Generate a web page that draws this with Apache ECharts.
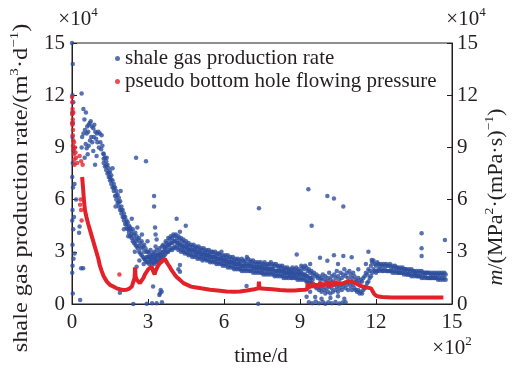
<!DOCTYPE html>
<html><head><meta charset="utf-8">
<script src="https://cdn.jsdelivr.net/npm/echarts@6/dist/echarts.min.js"></script>
<style>html,body{margin:0;padding:0;background:#fff}#c{width:517px;height:370px}</style>
</head><body><div id="c"></div>
<script>
// ---- tick labels ----
const xTickLabels = ['0','3','6','9','12','15'];   // ×10^2 d
const yTickLabels = ['0','3','6','9','12','15'];   // ×10^4
const seriesNames = ['shale gas production rate', 'pseudo bottom hole flowing pressure'];

// ---- shale gas production rate (day, 10^4 m3/d): scattered points ----
const gasRateScatter = [
[0,15.0],[3,13.8],[2,12.0],[5,11.6],[1,11.0],[4,10.4],[2,9.6],[6,8.8],[3,8.1],[1,7.3],[4,6.7],[10,6.9],[16,6.0],[2,5.4],[8,5.0],[1,4.8],[5,4.3],[30,4.45],[28,4.1],[2,3.4],[10,2.9],[6,2.6],[1,1.8],[36,2.05],[44,2.05],[32,0.23],[3,0.6],[2,2.2],
[38,12.1],[45,11.2],[55,11.0],[49,10.6],[51,10.0],[60,10.2],[66,10.3],[70,10.4],[74,10.5],[78,10.2],[84,10.1],[88,10.3],[92,9.9],[98,9.8],[104,9.9],[110,9.8],[117,9.7],[58,9.8],[45,9.8],[40,9.6],[64,9.9],[71,9.4],[80,9.3],[38,9.0],[58,8.95],[66,9.1],[97,8.5],[124,8.65],[120,9.1],[112,9.3],[106,9.0],[100,9.3],[91,8.0],[84,8.8],[62,8.6],[50,8.4],[54,9.2],[76,9.6],[95,9.5],[86,9.6],[115,8.9],[137,8.4],[150,7.3],
[160,7.8],[172,5.6],[192,6.5],[205,4.3],[222,3.9],[236,4.9],[248,3.0],[258,4.4],[266,2.5],[276,4.0],[283,2.3],[298,3.6],[253,8.4],[292,8.2],[324,6.2],[324,5.6],[328,4.4],[330,4.0],[334,3.7],[330,3.3],[288,2.6],[354,0.71],[345,0.52],[316,0.05],[334,0.05],[355,0.1],[242,0],[295,0.02],[189,0.65],[347,0.6],[350,0.8],[255,2.14],[320,1.0],[413,4.9],[449,4.5],[426,4.15],[426,2.24],[420,2.0],[426,1.86],
[935,0.1],[948,0.05],[962,0.15],[975,0.05],[990,0.12],[1000,0.02],[1012,0.1],[1025,0.05],[1040,0.12],[1055,0.03],[1068,0.08],[1080,0.1],[926,0.42],[940,0.7],[960,0.4],[985,0.3],[1020,0.35],[1050,0.45],[1075,0.3],[735,0.02],[689,1.03],
[738,5.5],[933,6.6],[946,4.5],[1008,6.2],[1034,6.07],[1071,5.6],[887,2.85],[979,2.66],[1008,2.49],[1034,2.8],[1071,2.76],[1104,2.68],[1170,3.0],[1183,2.53],[1380,4.06],[1380,3.2],[1380,2.76],[1472,3.68],[940,2.3],[1050,2.3],[1130,2.0],[1160,2.3]
];
// ---- shale gas production rate: main band, rows of [day, values read at that day...] ----
const gasRateBand = [
[125,8.6,8.35,8.1],[130,8.4,7.9],[135,8.2,7.95,7.7],[140,8.0,7.5],[145,7.8,7.55,7.3],[150,7.6,7.1],[155,7.4,7.15,6.9],[160,7.1,6.7],[165,6.9,6.7,6.5],[170,6.7,6.2],[175,6.5,6.25,6.0],[180,6.3,5.8],[185,6.1,5.85,5.6],[190,5.9,5.4],[195,5.6,5.4,5.2],[200,5.4,5.0],[205,5.2,5.0,4.8],[210,5.0,4.6],[215,4.8,4.6,4.4],[220,4.7,4.3],[225,4.5,4.3,4.1],[230,4.4,3.9],[235,4.2,4.0,3.8],[240,4.3,3.6],[245,4.0,3.75,3.5],[250,4.1,3.4],[255,3.9,3.6,3.3],[260,3.7,3.2],[265,3.8,3.35,3.0],[270,3.5,2.9],[275,3.6,3.2,2.8],[280,3.3,2.7],[285,3.4,3.0,2.6],[290,3.2,2.5],[295,3.0,2.7,2.4],
[300,3.0,2.7,2.4],[305,2.9,2.6,2.3],[310,3.1,2.7,2.5],[315,2.8,2.5,2.3],[320,2.9,2.7,2.4],[325,3.0,2.6,2.3],[330,2.8,2.6,2.4],[335,3.1,2.8,2.5],[340,2.9,2.7,2.4],[345,3.2,2.8,2.5],[350,3.0,2.8,2.6],[355,3.3,2.9,2.6],[360,3.4,3.0,2.7],[365,3.3,3.1,2.8],[370,3.6,3.2,2.9],[375,3.5,3.3,3.0],[380,3.8,3.4,3.0],[385,3.7,3.4,3.1],[390,3.9,3.5,3.2],[395,3.8,3.5,3.1],
[400,4.0,3.6,3.2],[405,3.9,3.6,3.3],[410,4.0,3.6,3.2],[415,3.8,3.5,3.3],[420,3.9,3.5,3.1],[425,3.7,3.4,3.2],[430,3.8,3.4,3.0],[435,3.6,3.3,3.1],[440,3.7,3.3,3.0],[445,3.5,3.2,2.9],[450,3.6,3.3,3.0],[455,3.4,3.2,2.9],[460,3.5,3.1,2.8],[465,3.3,3.1,2.9],[470,3.4,3.1,2.8],[475,3.3,3.0,2.7],[480,3.4,3.1,2.8],[485,3.2,3.0,2.7],[490,3.3,3.0,2.8],[495,3.2,2.9,2.6],
[500,3.3,3.0,2.7],[505,3.1,2.9,2.6],[510,3.2,2.9,2.7],[515,3.1,2.8,2.5],[520,3.2,2.9,2.6],[525,3.0,2.8,2.6],[530,3.1,2.8,2.5],[535,3.0,2.8,2.6],[540,3.1,2.8,2.5],[545,2.9,2.7,2.4],[550,3.0,2.7,2.5],[555,3.0,2.7,2.4],[560,2.9,2.7,2.5],[565,3.0,2.7,2.4],[570,2.8,2.6,2.3],[575,2.9,2.6,2.4],[580,2.9,2.6,2.3],[585,2.8,2.6,2.4],[590,3.0,2.6,2.3],[595,2.8,2.5,2.2],
[600,2.7,2.5,2.3],[605,2.8,2.5,2.2],[610,2.7,2.5,2.3],[615,2.8,2.4,2.1],[620,2.6,2.4,2.2],[625,2.7,2.4,2.1],[630,2.6,2.4,2.2],[635,2.7,2.4,2.1],[640,2.5,2.3,2.0],[645,2.6,2.3,2.1],[650,2.5,2.3,2.0],[655,2.6,2.3,2.1],[660,2.5,2.3,2.0],[665,2.4,2.2,2.0],[670,2.6,2.2,1.9],[675,2.5,2.2,2.0],[680,2.4,2.2,1.9],[685,2.5,2.2,2.0],[690,2.7,2.3,1.9],[695,2.6,2.2,2.0],
[700,2.4,2.2,1.9],[705,2.5,2.2,1.9],[710,2.4,2.2,2.0],[715,2.5,2.1,1.8],[720,2.3,2.1,1.9],[725,2.4,2.1,1.8],[730,2.3,2.1,1.9],[735,2.4,2.1,1.8],[740,2.3,2.1,1.9],[745,2.4,2.1,1.8],[750,2.2,2.0,1.8],[755,2.3,2.0,1.7],[760,2.4,2.1,1.8],[765,2.2,2.0,1.7],[770,2.3,2.0,1.8],[775,2.2,2.0,1.7],[780,2.3,2.0,1.8],[785,2.4,2.0,1.7],[790,2.2,2.0,1.8],[795,2.3,2.0,1.7],
[800,2.2,1.9,1.6],[805,2.3,1.9,1.7],[810,2.2,1.9,1.6],[815,2.1,1.9,1.7],[820,2.2,1.9,1.6],[825,2.1,1.9,1.7],[830,2.2,1.9,1.6],[835,2.0,1.8,1.5],[840,2.1,1.8,1.6],[845,2.0,1.8,1.5],[850,2.1,1.8,1.6],[855,2.0,1.8,1.5],[860,1.9,1.7,1.6],[865,2.0,1.8,1.5],[870,2.1,1.8,1.5],[875,1.9,1.7,1.6],[880,2.0,1.7,1.5],[885,2.1,1.8,1.5],[890,1.9,1.7,1.4],[895,2.0,1.7,1.5],
[900,1.9,1.7,1.4],[905,2.2,1.8,1.5],[910,2.1,1.7,1.4],[915,2.0,1.7,1.5],[920,2.2,1.7,1.4],[925,2.1,1.6,1.3],[930,1.9,1.6,1.3],[935,2.0,1.5,1.2],[940,1.8,1.5,1.3],[945,1.9,1.5,1.2],[950,1.7,1.4,1.1],
[955,1.8,1.1],[960,1.6,1.0],[965,1.7,0.9],[970,1.5,1.0],[975,1.6,0.8],[980,1.4,0.9],[985,1.5,0.7],[990,1.7,1.0],[995,1.4,0.8],[1000,1.6,0.6],[1005,1.3,0.9],[1010,1.5,0.7],[1015,1.8,1.0],[1020,1.4,0.6],[1025,1.6,0.9],[1030,1.3,0.7],[1035,1.7,1.1],[1040,1.5,0.8],[1045,1.9,1.0],[1050,1.6,0.7],
[1055,1.4,0.9],[1060,1.8,1.1],[1065,1.5,0.8],[1070,1.7,1.0],[1075,2.0,1.2],[1080,1.6,0.9],[1085,1.8,1.1],[1090,1.5,0.8],[1095,1.9,1.2],[1100,1.7,1.0],[1105,1.5,0.8],[1110,1.8,1.1],[1115,1.6,0.9],[1120,1.4,0.8],[1125,1.3,0.7],[1130,1.5,0.8],[1135,1.2,0.6],[1140,1.4,0.7],[1145,1.3,0.6],[1150,1.5,0.8],
[1155,1.6,0.9],[1160,1.8,1.0],[1165,1.7,1.2],[1170,2.0,1.3],[1175,1.9,1.5],[1180,2.2,1.6],[1185,2.4,1.8],[1190,2.5,2.0],
[1195,2.3,1.9],[1200,2.2,1.8],[1205,2.4,1.9],[1210,2.3,2.0],[1215,2.2,1.9],[1220,2.3,2.0],[1225,2.2,1.9],[1230,2.3,1.9],[1235,2.2,2.0],[1240,2.3,1.9],[1245,2.2,1.9],[1250,2.2,1.9],[1255,2.3,1.9],[1260,2.1,1.9],[1265,2.2,1.8],[1270,2.1,1.9],[1275,2.2,1.8],[1280,2.1,1.9],[1285,2.1,1.8],[1290,2.0,1.8],
[1295,2.1,1.8],[1300,2.0,1.8],[1305,2.1,1.8],[1310,2.0,1.7],[1315,2.0,1.8],[1320,2.0,1.7],[1325,1.9,1.7],[1330,2.0,1.7],[1335,1.9,1.7],[1340,2.0,1.6],[1345,1.9,1.7],[1350,1.9,1.6],[1355,1.8,1.7],[1360,1.9,1.6],[1365,1.8,1.6],[1370,1.9,1.6],[1375,1.8,1.6],[1380,1.9,1.5],[1385,1.8,1.6],[1390,1.8,1.5],
[1395,1.8,1.6],[1400,1.8,1.5],[1405,1.8,1.5],[1410,1.8,1.5],[1415,1.7,1.5],[1420,1.8,1.5],[1425,1.7,1.5],[1430,1.8,1.5],[1435,1.7,1.5],[1440,1.8,1.5],[1445,1.7,1.4],[1450,1.8,1.5],[1455,1.7,1.4],[1460,1.8,1.5],[1465,1.7,1.4],[1470,1.8,1.5],[1475,1.7,1.4]
];

// ---- pseudo bottom hole flowing pressure (day, 10^4 MPa^2/(mPa·s)) ----
const pressureEarly = [
[0,11.9],[1,11.6],[2,11.2],[1,10.9],[3,10.6],[2,10.3],[4,10.0],[3,9.7],[5,9.4],[4,9.1],[6,8.9],[7,8.6],[9,8.3],[10,8.0],[12,9.0],[14,8.7],[16,8.4],[8,9.3],[20,8.1],[34,6.0],[36,5.4],[38,4.8],[32,5.7],[30,8.5],[36,8.2],[42,8.0],[0,10.4],[5,11.0],[187,1.7]
];
const pressureCurve = [
[40,7.3],[42,7.2],[44,6.6],[47,6.0],[51,5.4],[57,5.0],[64,4.6],[72,4.2],[80,3.8],[88,3.4],[96,3.0],[104,2.6],[110,2.2],[117,1.9],[125,1.6],[137,1.3],[150,1.1],[163,1.0],[176,0.9],[189,0.85],[203,0.8],[216,0.82],[228,0.9],[236,1.0],[242,1.1],[247,1.5],[249,2.1],[251,1.6],[255,1.4],[262,1.3],[268,1.2],[275,1.25],[282,1.5],[288,1.7],[295,1.8],[301,2.0],[308,2.1],[314,2.15],[320,1.9],[326,1.7],[330,1.9],[334,1.8],[340,2.2],[347,2.35],[355,2.45],[362,2.55],[367,2.6],[372,2.45],[378,2.3],[387,2.1],[395,1.9],[405,1.7],[413,1.55],[425,1.4],[440,1.2],[455,1.1],[470,1.0],[490,0.95],[510,0.9],[545,0.82],[575,0.78],[610,0.72],[640,0.7],[663,0.72],[690,0.78],[720,0.85],[736,0.9],[738,1.28],[740,0.9],[760,0.88],[790,0.85],[821,0.8],[850,0.78],[880,0.78],[900,0.8],[920,0.82],[928,0.85],[930,1.2],[934,0.9],[940,1.1],[946,0.95],[952,1.2],[958,1.0],[965,1.15],[972,0.95],[980,1.25],[988,1.0],[995,1.2],[1002,1.05],[1010,1.3],[1018,1.0],[1025,1.25],[1032,1.05],[1040,1.3],[1048,1.1],[1058,1.2],[1068,1.15],[1080,1.25],[1092,1.3],[1100,1.3],[1110,1.25],[1125,1.15],[1137,1.05],[1150,1.0],[1165,0.95],[1180,0.9],[1186,0.8],[1192,0.6],[1200,0.48],[1210,0.43],[1225,0.4],[1260,0.38],[1320,0.37],[1400,0.37],[1466,0.37]
];

// ---- styling ----
const FONT = '"Liberation Serif","Times New Roman",serif';
const TX = '#231f20';
const BLUE = '#2d4d9e';
const RED = '#e3212a';

const gasPoints = gasRateScatter.concat(
  gasRateBand.flatMap(r => r.slice(1).map(v => [r[0], v]))
);

const supRich = {
  n: {fontFamily: FONT, fontSize: 21, color: TX, lineHeight: 24, verticalAlign: 'bottom'},
  i: {fontFamily: FONT, fontSize: 21, color: TX, lineHeight: 24, fontStyle: 'italic', verticalAlign: 'bottom'},
  s: {fontFamily: FONT, fontSize: 13, color: TX, lineHeight: 13, verticalAlign: 'top'}
};

function gtext(x, y, text, rot, sx) {
  return {
    type: 'text', x: x, y: y, rotation: rot || 0, scaleX: sx || 1, silent: true,
    style: {text: text, align: 'center', verticalAlign: 'middle', rich: supRich,
            font: '21px ' + FONT, fill: TX}
  };
}

const axisCommon = {
  axisLine: {show: true, lineStyle: {color: TX, width: 1}},
  axisTick: {show: true, inside: true, length: 5, lineStyle: {color: TX}},
  splitLine: {show: false}
};

const chart = echarts.init(document.getElementById('c'), null, {renderer: 'canvas'});
chart.setOption({
  animation: false,
  backgroundColor: '#fff',
  grid: {left: 72, right: 65, top: 43, bottom: 66, show: true, borderColor: TX, borderWidth: 1, backgroundColor: 'transparent'},
  legend: {
    orient: 'vertical', left: 115, top: 48, padding: 0, itemGap: 2,
    itemWidth: 5, itemHeight: 5, itemTextGap: 13,
    textStyle: {fontFamily: FONT, fontSize: 21, color: TX},
    data: [{name: seriesNames[0], icon: 'circle'}, {name: seriesNames[1], icon: 'circle'}]
  },
  xAxis: Object.assign({
    type: 'value', min: 0, max: 1500, interval: 300,
    axisLabel: {margin: 8, fontFamily: FONT, fontSize: 21, color: TX,
      formatter: (v, i) => xTickLabels[i]}
  }, axisCommon),
  yAxis: [
    Object.assign({type: 'value', min: 0, max: 15, interval: 3, position: 'left',
      axisLabel: {margin: 7, fontFamily: FONT, fontSize: 21, color: TX, formatter: (v, i) => yTickLabels[i]}}, axisCommon),
    Object.assign({type: 'value', min: 0, max: 15, interval: 3, position: 'right',
      axisLabel: {margin: 5, fontFamily: FONT, fontSize: 21, color: TX, formatter: (v, i) => yTickLabels[i]}}, axisCommon)
  ],
  series: [
    {name: seriesNames[0], type: 'scatter', yAxisIndex: 0, data: gasPoints,
     symbol: 'circle', symbolSize: 4.5, itemStyle: {color: BLUE}, z: 2},
    {name: seriesNames[1], type: 'scatter', yAxisIndex: 1, data: pressureEarly,
     symbol: 'circle', symbolSize: 4.5, itemStyle: {color: RED}, z: 3},
    {name: seriesNames[1], type: 'line', yAxisIndex: 1, data: pressureCurve,
     showSymbol: false, symbol: 'none', lineStyle: {color: RED, width: 4}, itemStyle: {color: RED}, z: 3}
  ],
  graphic: [
    gtext(78, 18, '{n|×10}{s|4}'),
    gtext(466, 18, '{n|×10}{s|4}'),
    gtext(452, 347, '{n|×10}{s|2}'),
    gtext(261, 355, '{n|time/d}'),
    gtext(20, 188, '{n|shale gas production rate/(m}{s|3}{n|·d}{s|−1}{n|)}', Math.PI / 2, 1.16),
    gtext(495, 197, '{i|m}{n|/(MPa}{s|2}{n|·(mPa·s)}{s|−1}{n|)}', Math.PI / 2, 1.05)
  ]
});
</script>
</body></html>
